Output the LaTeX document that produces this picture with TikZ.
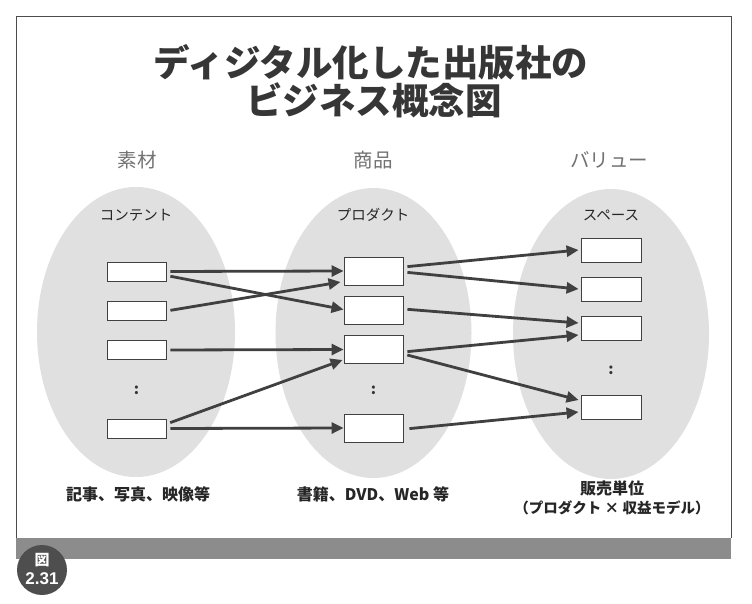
\documentclass[tikz,border=0pt]{standalone}
\usepackage{fontspec}
\setmainfont{Noto Sans CJK JP}
\newfontfamily\numfont{Liberation Sans}
\usetikzlibrary{arrows.meta}
\definecolor{ellfill}{HTML}{E0E0E0}
\definecolor{arrowc}{HTML}{404040}
\definecolor{titlec}{HTML}{363636}
\definecolor{headc}{HTML}{727272}
\definecolor{bandc}{HTML}{8C8C8C}
\definecolor{badgec}{HTML}{4E4E4E}
\begin{document}
\begin{tikzpicture}[x=1pt,y=-1pt,
  ell/.style={fill=ellfill},
  lbox/.style={draw=black!75, line width=0.9pt, fill=white, minimum width=59pt, minimum height=19pt, inner sep=0pt},
  mbox/.style={lbox, minimum height=28pt},
  rbox/.style={lbox, minimum width=60pt, minimum height=24pt},
  conn/.style={draw=arrowc, line width=2.8pt, shorten <=4pt, -{Triangle[length=12pt,width=11pt]}},
  titletext/.style={font=\fontsize{36.5}{40}\selectfont\bfseries, text=titlec, inner sep=0pt},
  headtext/.style={font=\fontsize{19.5}{22}\selectfont, text=headc, inner sep=0pt},
  subtext/.style={font=\fontsize{14.5}{17}\selectfont, text=black!85, inner sep=0pt},
  bottext/.style={font=\fontsize{16}{18}\selectfont\bfseries, text=black!85, inner sep=0pt},
  dots/.style={font=\fontsize{15}{16}\selectfont\bfseries, text=black!80, inner sep=0pt}
]
\useasboundingbox (0,0) rectangle (752,603);
\fill[white] (0,0) rectangle (752,603);
% frame and band
\draw[black!70, line width=1pt] (16,538) -- (16,16) -- (731,16) -- (731,538);
\fill[bandc] (16,538) rectangle (731,559);
% badge
\fill[badgec] (42,570) circle[radius=25];
\node[font=\fontsize{15}{16}\selectfont\bfseries, text=white, inner sep=0pt] (badge1) at (42,560) {図};
\node[font=\numfont\fontsize{17}{18}\selectfont\bfseries, text=white, inner sep=0pt] (badge2) at (42,579) {2.31};
% title
\node[titletext] (t1) at (371,62) {ディジタル化した出版社の};
\node[titletext] (t2) at (374,100) {ビジネス概念図};
% headers
\node[headtext] (h1) at (137,160) {素材};
\node[headtext] (h2) at (373,160) {商品};
\node[headtext] (h3) at (609,160) {バリュー};
% ellipses
\fill[ell] (136,332) ellipse[x radius=99, y radius=145];
\fill[ell] (373.5,333) ellipse[x radius=98, y radius=145];
\fill[ell] (611,334) ellipse[x radius=98, y radius=145];
% sub headers
\node[subtext] (s1) at (136,215) {コンテント};
\node[subtext] (s2) at (373,215) {プロダクト};
\node[subtext] (s3) at (611,215) {スペース};
% boxes
\node[lbox] (L1) at (136.5,271.5) {};
\node[lbox] (L2) at (136.5,311) {};
\node[lbox] (L3) at (136.5,350) {};
\node[lbox] (L4) at (136.5,428.5) {};
\node[dots] (dl) at (136.5,390) {:};
\node[mbox] (M1) at (373.5,271) {};
\node[mbox] (M2) at (373.5,310.5) {};
\node[mbox] (M3) at (373.5,349.5) {};
\node[mbox] (M4) at (373.5,428) {};
\node[dots] (dm) at (373.5,390) {:};
\node[rbox] (R1) at (611,250) {};
\node[rbox] (R2) at (611,289) {};
\node[rbox] (R3) at (611,328.5) {};
\node[rbox] (R4) at (611,407.5) {};
\node[dots] (dr) at (611,370) {:};
% connectors left -> middle
\draw[conn] (L1.east) -- (M1.west);
\draw[conn] ([yshift=-4pt]L1.east) -- ([yshift=1pt]M2.west);
\draw[conn] (L2.east) -- ([xshift=-3pt,yshift=-11pt]M1.west);
\draw[conn] (L3.east) -- (M3.west);
\draw[conn] ([yshift=4.5pt]L4.east) -- ([xshift=-1pt,yshift=-10.5pt]M3.west);
\draw[conn] (L4.east) -- (M4.west);
% connectors middle -> right
\draw[conn] ([yshift=4pt]M1.east) -- ([xshift=-2pt]R1.west);
\draw[conn] ([yshift=-1pt]M1.east) -- ([xshift=-2pt]R2.west);
\draw[conn] ([yshift=1.5pt]M2.east) -- ([xshift=-2pt,yshift=5.5pt]R3.west);
\draw[conn] ([yshift=-2.5pt]M3.east) -- ([xshift=-2pt,yshift=-6.5pt]R3.west);
\draw[conn] ([yshift=-4.5pt]M3.east) -- ([xshift=-2pt,yshift=7.5pt]R4.west);
\draw[conn] ([xshift=2pt,yshift=-1pt]M4.east) -- ([xshift=-2pt,yshift=-4.5pt]R4.west);
% bottom labels
\node[bottext] (b1) at (138,494) {記事、写真、映像等};
\node[bottext] (b2) at (373,494) {書籍、DVD、Web 等};
\node[bottext] (b3) at (612,488) {販売単位};
\node[bottext, font=\fontsize{14.5}{17}\selectfont\bfseries] (b4) at (612,508) {（プロダクト × 収益モデル）};
\end{tikzpicture}
\end{document}
